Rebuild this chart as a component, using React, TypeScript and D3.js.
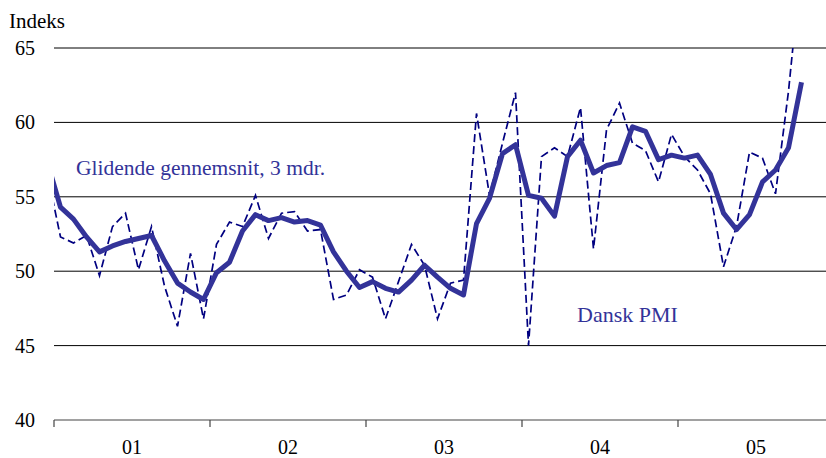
import * as d3 from "d3";

// month labels, Dec 2000 .. Oct 2005 (Dec 2000 sits just left of the axis and is clipped)
const months = [
  "2000-12",
  "2001-01", "2001-02", "2001-03", "2001-04", "2001-05", "2001-06", "2001-07", "2001-08", "2001-09", "2001-10", "2001-11", "2001-12",
  "2002-01", "2002-02", "2002-03", "2002-04", "2002-05", "2002-06", "2002-07", "2002-08", "2002-09", "2002-10", "2002-11", "2002-12",
  "2003-01", "2003-02", "2003-03", "2003-04", "2003-05", "2003-06", "2003-07", "2003-08", "2003-09", "2003-10", "2003-11", "2003-12",
  "2004-01", "2004-02", "2004-03", "2004-04", "2004-05", "2004-06", "2004-07", "2004-08", "2004-09", "2004-10", "2004-11", "2004-12",
  "2005-01", "2005-02", "2005-03", "2005-04", "2005-05", "2005-06", "2005-07", "2005-08", "2005-09", "2005-10",
];

// Dansk PMI (dashed)
const pmi = [
  56.5,
  52.3, 51.9, 52.4, 49.7, 53.0, 53.9, 50.1, 53.0, 49.0, 46.3, 51.2, 46.8,
  51.8, 53.3, 53.0, 55.1, 52.2, 53.9, 54.0, 52.7, 52.8, 48.1, 48.4, 50.1,
  49.6, 46.8, 49.3, 51.8, 50.4, 46.8, 49.2, 49.4, 60.6, 55.1, 58.6, 62.0,
  45.0, 57.7, 58.3, 57.7, 61.0, 51.5, 59.5, 61.3, 58.6, 58.1, 56.0, 59.2,
  57.7, 56.8, 55.2, 50.3, 53.0, 58.0, 57.6, 55.2, 62.1, 70.8,
];

// Glidende gennemsnit, 3 mdr. (thick)
const movingAvg = [
  57.3,
  54.3, 53.5, 52.3, 51.3, 51.7, 52.0, 52.2, 52.4, 50.7, 49.2, 48.6, 48.1,
  49.9, 50.6, 52.7, 53.8, 53.4, 53.6, 53.3, 53.4, 53.1, 51.3, 50.0, 48.9,
  49.3, 48.85, 48.6, 49.4, 50.4, 49.6, 48.85, 48.4, 53.2, 54.9, 57.9, 58.5,
  55.1, 54.9, 53.7, 57.7, 58.8, 56.6, 57.1, 57.3, 59.7, 59.4, 57.5, 57.8,
  57.6, 57.8, 56.5, 53.9, 52.8, 53.8, 56.0, 56.8, 58.3, 62.7,
];

const yTicks = [40, 45, 50, 55, 60, 65];
const yearLabels = ["01", "02", "03", "04", "05"];

const W = 826;
const H = 458;
const left = 54;
const top = 48;
const bottom = 420;

// months counted from Jan 2001
const monthIndex = (m: string) => {
  const [y, mo] = m.split("-").map(Number);
  return (y - 2001) * 12 + (mo - 1);
};

export default function App() {
  const x = d3.scaleLinear().domain([0, 60]).range([left, left + 60 * 13]);
  const y = d3.scaleLinear().domain([40, 65]).range([bottom, top]);

  const line = d3
    .line<number>()
    .x((_, i) => x(monthIndex(months[i]) + 0.5))
    .y((d) => y(d));

  const font = "'Liberation Serif', 'Times New Roman', serif";
  const blue = "#333399";

  return (
    <svg
      width={W}
      height={H}
      style={{ position: "absolute", left: 0, top: 0, background: "#fff" }}
    >
      <defs>
        <clipPath id="plotClip">
          <rect x={left} y={top} width={x(60) - left} height={bottom - top} />
        </clipPath>
      </defs>

      {/* gridlines */}
      {yTicks.slice(1).map((t) => (
        <line key={t} x1={left} x2={W} y1={y(t)} y2={y(t)} stroke="#000" strokeWidth={1} />
      ))}

      {/* y tick labels */}
      {yTicks.map((t) => (
        <text
          key={t}
          x={35}
          y={y(t) + 7}
          textAnchor="end"
          fontFamily={font}
          fontSize={20}
          fill="#000"
        >
          {t}
        </text>
      ))}
      <text x={9} y={28} fontFamily={font} fontSize={21} fill="#000">
        Indeks
      </text>

      {/* x axis */}
      <line x1={left} x2={W} y1={bottom} y2={bottom} stroke="#444" strokeWidth={1.2} />
      {d3.range(0, 61, 12).map((m) => (
        <line key={m} x1={x(m)} x2={x(m)} y1={bottom} y2={bottom + 7} stroke="#444" strokeWidth={1.2} />
      ))}
      {yearLabels.map((lab, i) => (
        <text
          key={lab}
          x={x(i * 12 + 6)}
          y={454}
          textAnchor="middle"
          fontFamily={font}
          fontSize={20}
          fill="#000"
        >
          {lab}
        </text>
      ))}

      {/* series */}
      <g clipPath="url(#plotClip)">
        <path
          d={line(pmi) ?? ""}
          fill="none"
          stroke="#000080"
          strokeWidth={1.7}
          strokeDasharray="8,4"
        />
        <path
          d={line(movingAvg) ?? ""}
          fill="none"
          stroke={blue}
          strokeWidth={5}
          strokeLinejoin="round"
        />
      </g>

      {/* series labels */}
      <text x={76} y={175} fontFamily={font} fontSize={21.5} fill={blue}>
        Glidende gennemsnit, 3 mdr.
      </text>
      <text x={577} y={322} fontFamily={font} fontSize={22} fill={blue}>
        Dansk PMI
      </text>
    </svg>
  );
}
